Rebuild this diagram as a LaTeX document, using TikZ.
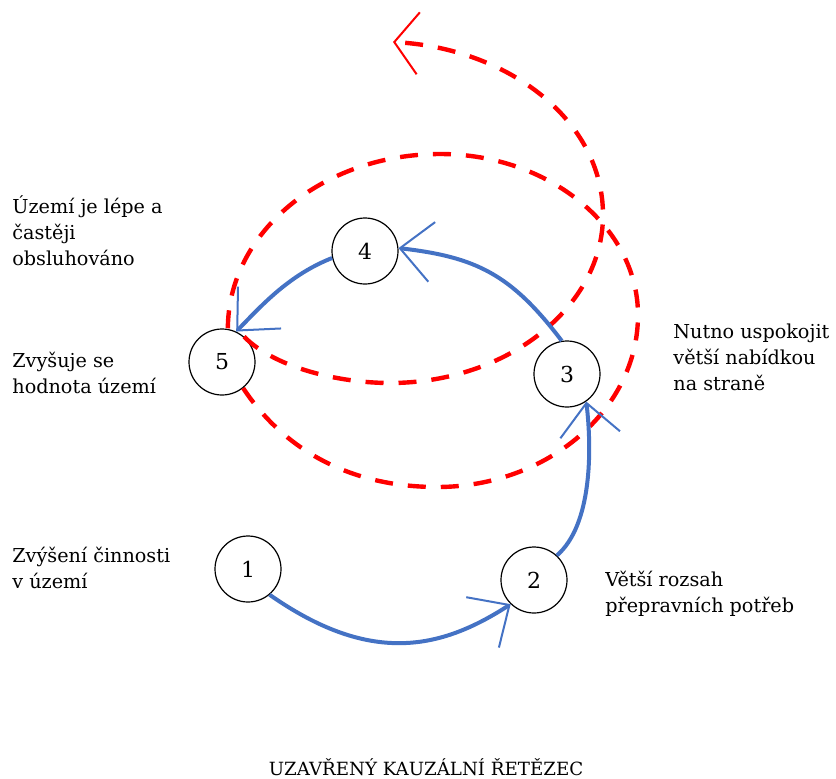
\documentclass[tikz,border=0pt]{standalone}
\usepackage{fontspec}
\setmainfont{DejaVu Serif}
\usetikzlibrary{arrows.meta}
\definecolor{linkblue}{RGB}{68,114,196}
\tikzset{%
  state/.style    = {shape=circle, draw, fill=white, line width=0.6pt,%
                     minimum size=33pt, inner sep=0pt,%
                     font=\fontsize{11}{13}\selectfont},%
  caption/.style  = {anchor=base west, align=left, inner sep=0pt,%
                     font=\fontsize{9.6}{13}\selectfont},%
  link/.style     = {draw=linkblue, line width=2pt,%
                     -{Straight Barb[length=16pt,width=30pt,line width=1pt]}},%
  feedback/.style = {draw=red, line width=2.2pt, dash pattern=on 9pt off 7.5pt}%
}

\begin{document}
\begin{tikzpicture}[x=0.5pt,y=-0.5pt]
	\useasboundingbox (0,0) rectangle (836,778);
	\node[state] (s1) at (248,569) {1};
	\node[state] (s2) at (534,580) {2};
	\node[state] (s3) at (567,374) {3};
	\node[state] (s4) at (365,251) {4};
	\node[state] (s5) at (222,362) {5};
	\node[caption] (l1) at (12,588) {Zvýšení činnosti\\v území};
	\node[caption] (l2) at (605,612) {Větší rozsah\\přepravních potřeb};
	\node[caption] (l3) at (673,390) {Nutno uspokojit\\větší nabídkou\\na straně};
	\node[caption] (l4) at (12,265) {Území je lépe a\\častěji\\obsluhováno};
	\node[caption] (l5) at (12,393) {Zvyšuje se\\hodnota území};
	\node[anchor=base,font=\fontsize{9.1}{12}\selectfont] (title) at (426,775) {UZAVŘENÝ KAUZÁLNÍ ŘETĚZEC};
	\coordinate (tip) at (393,42);
	\draw[feedback] (s5.-51) .. controls (276,438) and (337,487) .. (437,487)
		.. controls (547,487) and (638,410) .. (638,315)
		.. controls (638,227) and (549,154) .. (440,154)
		.. controls (323,154) and (228,232) .. (s5.80);
	\draw[feedback,-{Straight Barb[length=12pt,width=31pt,line width=1pt]}] (s5.49)
		.. controls (275,368) and (340,383) .. (390,383)
		.. controls (507,383) and (603,307) .. (603,215)
		.. controls (603,120) and (508,48) .. (tip);
	\draw[link] (s1.-50) .. controls (370,665) and (440,650) .. (s2.-134);
	\draw[link] (s2.47) .. controls (592,525) and (592,450) .. (s3.-55);
	\draw[link] (s3.99) .. controls (511,274) and (476,257) .. (s4.5);
	\draw[link] (s4.192) .. controls (289,275) and (262,305) .. (s5.65);
\end{tikzpicture}
\end{document}
